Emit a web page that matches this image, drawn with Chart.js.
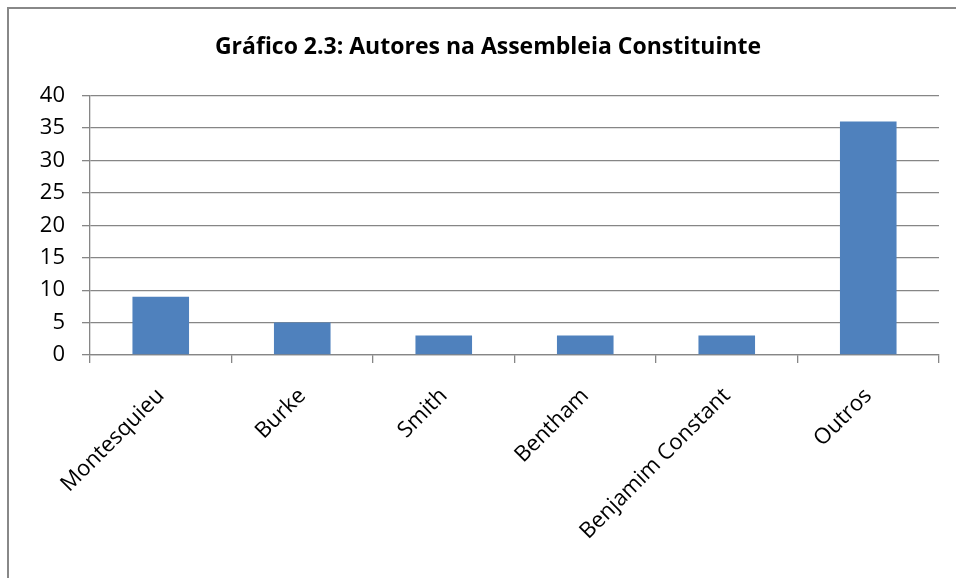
<!DOCTYPE html>
<html>
<head>
<meta charset="utf-8">
<title>Gráfico 2.3</title>
<script src="https://cdn.jsdelivr.net/npm/chart.js@4.4.1/dist/chart.umd.min.js"></script>
<style>
  html, body { margin: 0; padding: 0; background: #fff; }
  #wrap { width: 956px; height: 578px; position: relative; }
</style>
</head>
<body>
<div id="wrap"><canvas id="barChart"></canvas></div>
<script>
const autores = ['Montesquieu', 'Burke', 'Smith', 'Bentham', 'Benjamim Constant', 'Outros'];
const citacoes = [9, 5, 3, 3, 3, 36];
const yTicks = [0, 5, 10, 15, 20, 25, 30, 35, 40];

const gray = '#868686';
const fontFamily = '"Open Sans", "Noto Sans", sans-serif';

// moldura do gráfico (como no Excel)
const frame = {
    id: 'frame',
    beforeDraw(chart) {
        const c = chart.ctx;
        c.save();
        c.strokeStyle = '#888888';
        c.lineWidth = 2;
        c.strokeRect(8, 8, chart.width + 10, chart.height + 10);
        c.restore();
    }
};

new Chart(document.getElementById('barChart'), {
    type: 'bar',
    data: {
        labels: autores,
        datasets: [{
            data: citacoes,
            backgroundColor: '#4F81BD',
            borderWidth: 0,
            categoryPercentage: 0.8,
            barPercentage: 0.5
        }]
    },
    plugins: [frame],
    options: {
        responsive: true,
        maintainAspectRatio: false,
        animation: false,
        layout: { padding: { left: 37, right: 17, top: 0, bottom: 0 } },
        plugins: {
            legend: { display: false },
            tooltip: { enabled: false },
            title: {
                display: true,
                text: 'Gráfico 2.3: Autores na Assembleia Constituinte',
                color: '#000',
                font: { family: fontFamily, size: 23, weight: 'bold' },
                padding: { top: 34, bottom: 34 }
            }
        },
        scales: {
            x: {
                grid: {
                    drawOnChartArea: false,
                    drawTicks: true,
                    tickLength: 8,
                    color: gray,
                    lineWidth: 1.3
                },
                border: { display: true, color: gray, width: 1.3 },
                ticks: {
                    color: '#000',
                    font: { family: fontFamily, size: 22 },
                    minRotation: 45,
                    maxRotation: 45,
                    padding: 20
                },
                afterFit(scale) { scale.height = 223; }
            },
            y: {
                min: 0,
                max: 40,
                afterBuildTicks(scale) {
                    scale.ticks = yTicks.map(v => ({ value: v }));
                },
                grid: {
                    color: gray,
                    lineWidth: 1.3,
                    tickLength: 8
                },
                border: { display: true, color: gray, width: 1.3 },
                ticks: {
                    color: '#000',
                    font: { family: fontFamily, size: 22 },
                    padding: 17
                },
                afterFit(scale) { scale.width = 53; }
            }
        }
    }
});
</script>
</body>
</html>
